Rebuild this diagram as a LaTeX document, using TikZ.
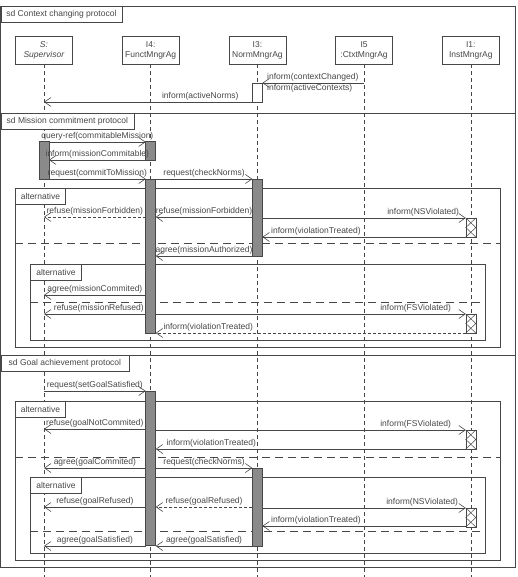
\documentclass[tikz,border=0pt]{standalone}
\usepackage{fontspec}
\setmainfont{Liberation Sans}
\usetikzlibrary{arrows.meta,positioning}

\definecolor{lineg}{HTML}{474747}
\definecolor{actg}{HTML}{8A8A8A}

\tikzset{
  lbl/.style={font=\fontsize{8.5}{10}\selectfont, text=lineg, inner sep=1.5pt},
  head/.style={draw=lineg, fill=white, line width=0.7pt, minimum width=57pt, minimum height=28pt,
    align=center, inner sep=1pt, font=\fontsize{8.5}{10}\selectfont, text=lineg},
  life/.style={draw=lineg, line width=0.6pt, dash pattern=on 4pt off 3pt},
  msg/.style={draw=lineg, line width=0.6pt, -{Straight Barb[length=6.5pt,width=9pt]}},
  reply/.style={msg, dash pattern=on 3pt off 2pt},
  act/.style={draw=lineg, fill=actg, line width=0.6pt},
  frm/.style={draw=lineg, line width=0.9pt},
  sepline/.style={draw=lineg, line width=0.9pt, dash pattern=on 8pt off 5pt},
  tab/.style={draw=lineg, fill=white, line width=0.8pt, anchor=north west, minimum height=16pt,
    inner xsep=4pt, inner ysep=0pt, font=\fontsize{8.5}{10}\selectfont, text=lineg},
}

\begin{document}
\begin{tikzpicture}[x=1pt,y=-1pt]
  \useasboundingbox (0,0) rectangle (517,577);

  % frames
  \draw[frm] (0.5,6) rectangle (515.5,113);
  \draw[frm] (0.5,113) rectangle (515.5,355);
  \draw[frm] (0.5,355) rectangle (515.5,567);
  \draw[frm] (15,188) rectangle (500,347);
  \draw[sepline] (15,243) -- (500,243);
  \draw[frm] (30,264) rectangle (485,340);
  \draw[sepline] (30,302) -- (485,302);
  \draw[frm] (15,401) rectangle (500,560);
  \draw[sepline] (15,457) -- (500,457);
  \draw[frm] (30,477) rectangle (485,553);
  \draw[sepline] (30,531) -- (485,531);

  % lifelines
  \node[head] (sup) at (44,50) {\textit{S:}\\\textit{Supervisor}};
  \node[head, right=49pt of sup] (fun) {I4:\\FunctMngrAg};
  \node[head, right=49pt of fun] (nor) {I3:\\NormMngrAg};
  \node[head, right=49pt of nor] (ctx) {I5\\:CtxtMngrAg};
  \node[head, right=49pt of ctx] (ins) {I1:\\InstMngrAg};
  \foreach \n in {sup,fun,nor,ctx,ins}
    \draw[life] (\n.south) -- (\n.south |- 0,577);

  \coordinate (s)  at (sup.south);
  \coordinate (sL) at ([xshift=-5pt]sup.south);
  \coordinate (sR) at ([xshift=5pt]sup.south);
  \coordinate (fL) at ([xshift=-5pt]fun.south);
  \coordinate (fR) at ([xshift=5pt]fun.south);
  \coordinate (nL) at ([xshift=-5pt]nor.south);
  \coordinate (nR) at ([xshift=5pt]nor.south);
  \coordinate (c)  at (ctx.south);
  \coordinate (iL) at ([xshift=-5pt]ins.south);
  \coordinate (iR) at ([xshift=5pt]ins.south);

  % activations
  \draw[act, fill=white] (nL |- 0,83) rectangle (nR |- 0,102);
  \draw[act] (sL |- 0,141) rectangle (sR |- 0,179);
  \draw[act] (fL |- 0,141) rectangle (fR |- 0,160);
  \draw[act] (fL |- 0,179) rectangle (fR |- 0,333);
  \draw[act] (nL |- 0,179) rectangle (nR |- 0,256);
  \draw[act] (fL |- 0,391) rectangle (fR |- 0,545);
  \draw[act] (nL |- 0,468) rectangle (nR |- 0,546);
  \foreach \y in {218,314,430,508} {
    \draw[act, fill=white] (iL |- 0,\y) rectangle (iR |- 0,\y+19);
    \draw[lineg, line width=0.5pt] (iL |- 0,\y) -- (iR |- 0,\y+9.5) -- (iL |- 0,\y+19);
    \draw[lineg, line width=0.5pt] (iR |- 0,\y) -- (iL |- 0,\y+9.5) -- (iR |- 0,\y+19);
  }

  % context changing
  \draw[msg] (c |- 0,83) -- node[lbl,above right,pos=1,xshift=3pt]{inform(contextChanged)}
    node[lbl,below right,pos=1,xshift=3pt]{inform(activeContexts)} (nR |- 0,83);
  \draw[msg] (nL |- 0,102) -- node[lbl,above,pos=0.25]{inform(activeNorms)} (s |- 0,102);

  % mission commitment
  \draw[msg] (sR |- 0,142) -- node[lbl,above]{query-ref(commitableMission)} (fL |- 0,142);
  \draw[msg] (fL |- 0,160) -- node[lbl,above]{inform(missionCommitable)} (sR |- 0,160);
  \draw[msg] (sR |- 0,179) -- node[lbl,above]{request(commitToMission)} (fL |- 0,179);
  \draw[msg] (fR |- 0,179) -- node[lbl,above]{request(checkNorms)} (nL |- 0,179);
  \draw[reply] (fL |- 0,217) -- node[lbl,above]{refuse(missionForbidden)} (s |- 0,217);
  \draw[msg] (nL |- 0,217) -- node[lbl,above]{refuse(missionForbidden)} (fR |- 0,217);
  \draw[msg] (nR |- 0,218) -- node[lbl,above left,pos=1,xshift=-5pt]{inform(NSViolated)} (iL |- 0,218);
  \draw[msg] (iL |- 0,237) -- node[lbl,above right,pos=1,xshift=7pt]{inform(violationTreated)} (nR |- 0,237);
  \draw[msg] (nL |- 0,256) -- node[lbl,above]{agree(missionAuthorized)} (fR |- 0,256);
  \draw[msg] (fL |- 0,295) -- node[lbl,above]{agree(missionCommited)} (s |- 0,295);
  \draw[msg] (fL |- 0,314) -- node[lbl,above,xshift=4pt]{refuse(missionRefused)} (s |- 0,314);
  \draw[msg] (fR |- 0,314) -- node[lbl,above left,pos=1,xshift=-13pt]{inform(FSViolated)} (iL |- 0,314);
  \draw[reply] (iL |- 0,333) -- node[lbl,above right,pos=1,xshift=6pt]{inform(violationTreated)} (fR |- 0,333);

  % goal achievement
  \draw[msg] (s |- 0,391) -- node[lbl,above]{request(setGoalSatisfied)} (fL |- 0,391);
  \draw[msg] (fL |- 0,429) -- node[lbl,above]{refuse(goalNotCommited)} (s |- 0,429);
  \draw[msg] (fR |- 0,430) -- node[lbl,above left,pos=1,xshift=-13pt]{inform(FSViolated)} (iL |- 0,430);
  \draw[msg] (iL |- 0,449) -- node[lbl,above right,pos=1,xshift=9pt]{inform(violationTreated)} (fR |- 0,449);
  \draw[msg] (fL |- 0,468) -- node[lbl,above]{agree(goalCommited)} (s |- 0,468);
  \draw[msg] (fR |- 0,468) -- node[lbl,above]{request(checkNorms)} (nL |- 0,468);
  \draw[msg] (fL |- 0,507) -- node[lbl,above]{refuse(goalRefused)} (s |- 0,507);
  \draw[reply] (nL |- 0,507) -- node[lbl,above]{refuse(goalRefused)} (fR |- 0,507);
  \draw[msg] (nR |- 0,508) -- node[lbl,above left,pos=1,xshift=-6pt]{inform(NSViolated)} (iL |- 0,508);
  \draw[msg] (iL |- 0,526) -- node[lbl,above right,pos=1,xshift=7pt]{inform(violationTreated)} (nR |- 0,526);
  \draw[msg] (fL |- 0,546) -- node[lbl,above]{agree(goalSatisfied)} (s |- 0,546);
  \draw[msg] (nL |- 0,546) -- node[lbl,above]{agree(goalSatisfied)} (fR |- 0,546);

  % frame tabs
  \node[tab, minimum width=121pt] (tctx) at (0.5,6) {sd Context changing protocol};
  \node[tab, minimum width=133pt] (tmis) at (0.5,113) {sd Mission commitment protocol};
  \node[tab, minimum width=128pt] (tgoal) at (0.5,355) {sd Goal achievement protocol};
  \node[tab, minimum width=50pt] (talt1) at (15,188) {alternative};
  \node[tab, minimum width=51pt] (talt2) at (30,264) {alternative};
  \node[tab, minimum width=50pt] (talt3) at (15,401) {alternative};
  \node[tab, minimum width=51pt] (talt4) at (30,477) {alternative};
\end{tikzpicture}
\end{document}
